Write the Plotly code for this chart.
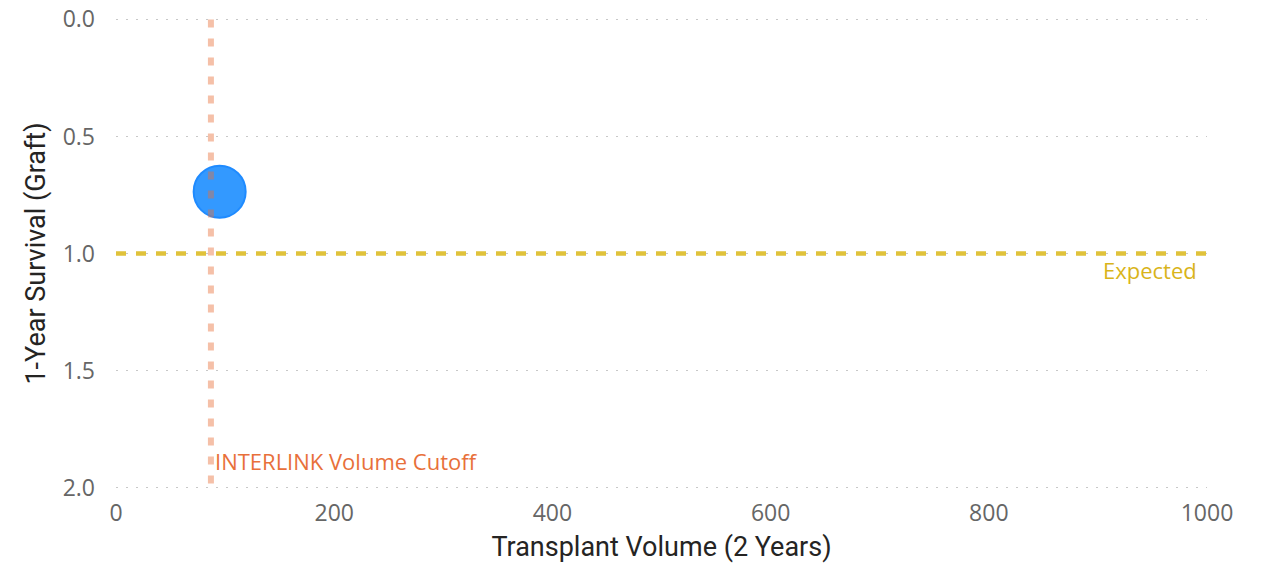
import plotly.graph_objects as go

# Data
volume = [95]
survival = [0.736]
cutoff_volume = [87]
expected_survival = [1.0]
x_ticks = [0, 200, 400, 600, 800, 1000]
y_ticks = [0.0, 0.5, 1.0, 1.5, 2.0]
x_range = [0, 1000]
y_range = [2.006, -0.006]

fig = go.Figure()

fig.add_trace(go.Scatter(
    x=volume, y=survival, mode="markers",
    marker=dict(size=52, color="#3399FF", line=dict(color="#1F8BFF", width=2)),
    showlegend=False, hoverinfo="x+y",
))

# Expected horizontal line
fig.add_trace(go.Scatter(
    x=x_range, y=[expected_survival[0]] * 2, mode="lines",
    line=dict(color="#E0C23A", width=4.5, dash="10px,10px"),
    showlegend=False, hoverinfo="skip",
))

# Cutoff vertical line (drawn above marker, translucent)
fig.add_shape(type="line", xref="x", yref="y",
              x0=cutoff_volume[0], x1=cutoff_volume[0], y0=y_ticks[0], y1=y_ticks[-1],
              line=dict(color="rgba(232,112,58,0.44)", width=6, dash="8px,11px"),
              layer="above")

fig.add_annotation(x=cutoff_volume[0], y=1.885, xref="x", yref="y",
                   text="INTERLINK Volume Cutoff", showarrow=False,
                   xanchor="left", yanchor="middle", xshift=2,
                   font=dict(family="Open Sans", size=22, color="#E8703A"))
fig.add_annotation(x=x_range[1], y=expected_survival[0], xref="x", yref="y",
                   text="Expected", showarrow=False,
                   xanchor="right", yanchor="top", xshift=-8, yshift=1,
                   font=dict(family="Open Sans", size=22, color="#D9B41A"))

fig.update_layout(
    width=1268, height=566,
    margin=dict(l=116, r=61, t=18, b=77),
    plot_bgcolor="white", paper_bgcolor="white",
    font=dict(family="Open Sans", color="#666666"),
    xaxis=dict(range=x_range, tickvals=x_ticks, showgrid=False, zeroline=False,
               showline=False, ticks="", automargin=False,
               ticklabelstandoff=8, ticklabeloverflow="allow",
               tickfont=dict(size=23, color="#666666"),
               title=dict(text="Transplant Volume (2 Years)", standoff=10,
                          font=dict(family="Roboto", size=27, color="#252423"))),
    yaxis=dict(range=y_range, tickvals=y_ticks, tickformat=".1f",
               showgrid=True, gridcolor="#C8C8C8", gridwidth=1, griddash="2px,8px",
               zeroline=False, showline=False, ticks="", automargin=False,
               ticklabelstandoff=20, ticklabeloverflow="allow",
               tickfont=dict(size=23, color="#666666"),
               title=dict(text="1-Year Survival (Graft)", standoff=9,
                          font=dict(family="Roboto", size=27, color="#252423"))),
)

# remove the default 8px page margin so the figure fills the window exactly
fig.write_html("out.html", config={"displayModeBar": False},
               post_script="document.body.style.margin='0px';")
